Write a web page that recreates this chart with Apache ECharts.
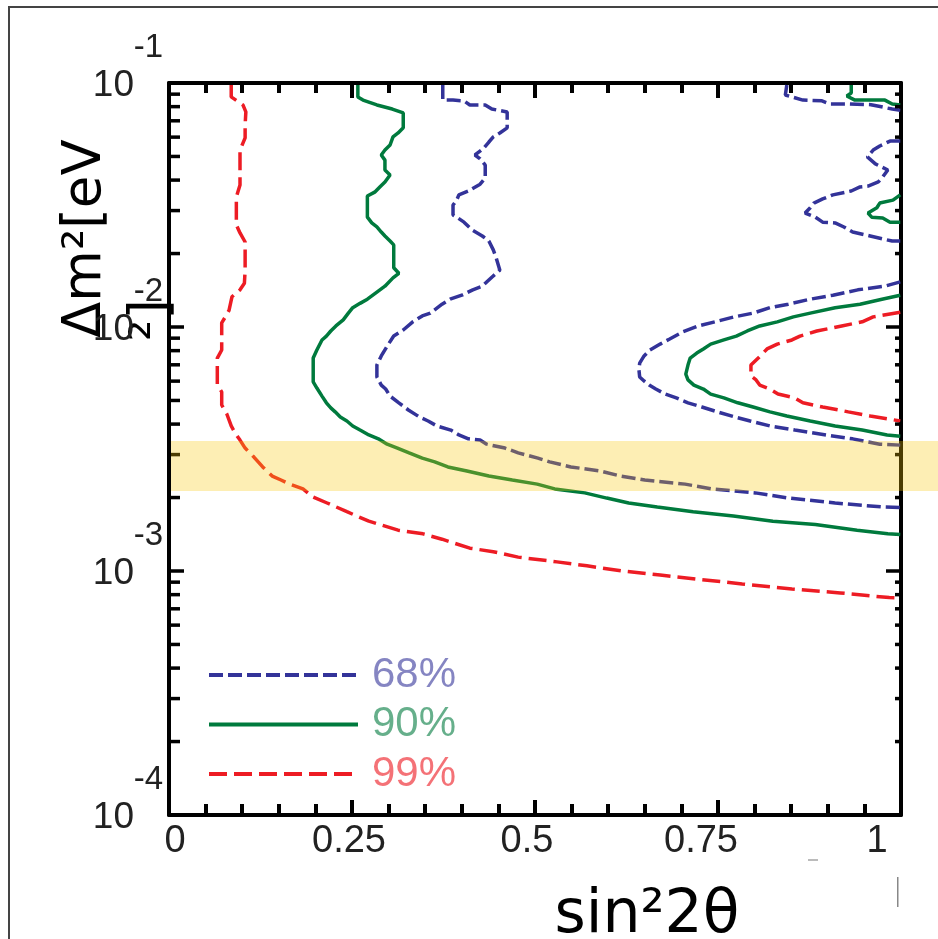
<!DOCTYPE html>
<html><head><meta charset="utf-8">
<script src="https://cdn.jsdelivr.net/npm/echarts@6/dist/echarts.min.js"></script>
<style>html,body{margin:0;padding:0;background:#fff}#c{width:938px;height:939px}</style>
</head><body><div id="c"></div>
<script>
// ---------------- data ----------------
const xTickLabels = [0, 0.25, 0.5, 0.75, 1];
const yMajorTicks = [1e-4, 1e-3, 1e-2, 1e-1];
const yMinorTicks = [2e-4,3e-4,4e-4,5e-4,6e-4,7e-4,8e-4,9e-4,
                     2e-3,3e-3,4e-3,5e-3,6e-3,7e-3,8e-3,9e-3,
                     2e-2,3e-2,4e-2,5e-2,6e-2,7e-2,8e-2,9e-2];
const bandRange = [2.13e-3, 3.41e-3]; // shaded Δm² band
const legendNames = ['68%', '90%', '99%'];

const cl68Left = [[0.374,9.81e-2],[0.374,8.51e-2],[0.388,8.51e-2],[0.403,8.44e-2],[0.411,8.13e-2],[0.432,8.13e-2],[0.441,7.82e-2],[0.462,7.61e-2],[0.462,6.55e-2],[0.452,6.24e-2],[0.443,6.01e-2],[0.437,5.73e-2],[0.429,5.37e-2],[0.418,5.07e-2],[0.425,4.89e-2],[0.432,4.61e-2],[0.432,4.08e-2],[0.425,3.85e-2],[0.409,3.61e-2],[0.396,3.48e-2],[0.393,3.31e-2],[0.388,3.16e-2],[0.388,2.88e-2],[0.393,2.82e-2],[0.403,2.69e-2],[0.414,2.50e-2],[0.428,2.36e-2],[0.437,2.25e-2],[0.443,2.07e-2],[0.447,1.92e-2],[0.452,1.71e-2],[0.441,1.60e-2],[0.428,1.47e-2],[0.415,1.42e-2],[0.400,1.35e-2],[0.384,1.30e-2],[0.373,1.24e-2],[0.357,1.14e-2],[0.346,1.11e-2],[0.333,1.05e-2],[0.320,9.72e-3],[0.307,9.18e-3],[0.299,8.44e-3],[0.290,7.61e-3],[0.284,6.98e-3],[0.284,6.24e-3],[0.290,5.78e-3],[0.296,5.57e-3],[0.302,5.21e-3],[0.314,4.89e-3],[0.327,4.57e-3],[0.342,4.28e-3],[0.354,4.12e-3],[0.366,3.93e-3],[0.385,3.78e-3],[0.396,3.61e-3],[0.409,3.48e-3],[0.425,3.44e-3],[0.434,3.31e-3],[0.459,3.19e-3],[0.477,3.05e-3],[0.504,2.90e-3],[0.520,2.80e-3],[0.549,2.67e-3],[0.589,2.57e-3],[0.617,2.45e-3],[0.650,2.36e-3],[0.705,2.27e-3],[0.742,2.17e-3],[0.801,2.09e-3],[0.847,1.99e-3],[0.910,1.90e-3],[0.974,1.83e-3],[0.999,1.82e-3]];
const cl68Island = [[0.999,1.53e-2],[0.978,1.47e-2],[0.941,1.42e-2],[0.907,1.35e-2],[0.876,1.30e-2],[0.846,1.24e-2],[0.821,1.20e-2],[0.798,1.14e-2],[0.772,1.10e-2],[0.746,1.05e-2],[0.723,1.01e-2],[0.702,9.55e-3],[0.684,8.93e-3],[0.671,8.51e-3],[0.657,8.05e-3],[0.649,7.61e-3],[0.643,7.11e-3],[0.642,6.67e-3],[0.643,6.24e-3],[0.649,6.01e-3],[0.656,5.78e-3],[0.665,5.57e-3],[0.678,5.31e-3],[0.693,5.12e-3],[0.709,4.89e-3],[0.728,4.70e-3],[0.749,4.49e-3],[0.773,4.28e-3],[0.794,4.12e-3],[0.821,3.93e-3],[0.855,3.78e-3],[0.898,3.61e-3],[0.934,3.48e-3],[0.971,3.31e-3],[0.999,3.28e-3]];
const cl68Top = [[0.844,9.81e-2],[0.842,8.93e-2],[0.866,8.51e-2],[0.892,8.45e-2],[0.903,8.20e-2],[0.928,8.20e-2],[0.959,8.15e-2],[0.988,7.82e-2],[0.999,7.74e-2]];
const cl68Edge = [[0.999,5.78e-2],[0.985,5.78e-2],[0.971,5.52e-2],[0.962,5.31e-2],[0.954,4.98e-2],[0.965,4.66e-2],[0.982,4.40e-2],[0.975,4.12e-2],[0.969,3.93e-2],[0.955,3.78e-2],[0.944,3.75e-2],[0.932,3.61e-2],[0.907,3.48e-2],[0.893,3.35e-2],[0.881,3.22e-2],[0.876,3.08e-2],[0.869,2.93e-2],[0.883,2.82e-2],[0.893,2.69e-2],[0.910,2.67e-2],[0.922,2.57e-2],[0.934,2.45e-2],[0.958,2.36e-2],[0.988,2.25e-2],[0.999,2.25e-2]];

const cl90Left = [[0.258,9.81e-2],[0.258,8.77e-2],[0.265,8.51e-2],[0.284,8.13e-2],[0.305,7.82e-2],[0.320,7.54e-2],[0.320,6.55e-2],[0.313,6.24e-2],[0.306,6.01e-2],[0.302,5.57e-2],[0.295,5.31e-2],[0.290,5.07e-2],[0.295,4.83e-2],[0.295,4.40e-2],[0.302,4.20e-2],[0.295,3.93e-2],[0.288,3.75e-2],[0.281,3.57e-2],[0.271,3.44e-2],[0.271,2.82e-2],[0.277,2.67e-2],[0.284,2.57e-2],[0.290,2.45e-2],[0.295,2.36e-2],[0.302,2.25e-2],[0.307,2.17e-2],[0.307,1.75e-2],[0.314,1.66e-2],[0.306,1.59e-2],[0.295,1.47e-2],[0.284,1.39e-2],[0.271,1.30e-2],[0.261,1.25e-2],[0.251,1.20e-2],[0.245,1.14e-2],[0.238,1.07e-2],[0.228,1.01e-2],[0.221,9.63e-3],[0.215,9.18e-3],[0.209,8.85e-3],[0.202,8.05e-3],[0.197,7.46e-3],[0.197,5.96e-3],[0.202,5.62e-3],[0.209,5.21e-3],[0.215,4.89e-3],[0.221,4.66e-3],[0.227,4.49e-3],[0.234,4.28e-3],[0.243,4.12e-3],[0.251,3.93e-3],[0.261,3.78e-3],[0.273,3.61e-3],[0.286,3.48e-3],[0.298,3.31e-3],[0.312,3.19e-3],[0.328,3.05e-3],[0.346,2.90e-3],[0.363,2.80e-3],[0.381,2.67e-3],[0.407,2.57e-3],[0.437,2.45e-3],[0.469,2.36e-3],[0.503,2.27e-3],[0.527,2.17e-3],[0.568,2.09e-3],[0.598,1.99e-3],[0.628,1.90e-3],[0.667,1.83e-3],[0.716,1.75e-3],[0.771,1.68e-3],[0.825,1.60e-3],[0.883,1.55e-3],[0.940,1.47e-3],[0.982,1.42e-3],[0.999,1.41e-3]];
const cl90Island = [[0.999,1.35e-2],[0.974,1.30e-2],[0.944,1.24e-2],[0.910,1.20e-2],[0.876,1.14e-2],[0.853,1.10e-2],[0.831,1.05e-2],[0.807,1.01e-2],[0.790,9.63e-3],[0.775,9.18e-3],[0.758,8.85e-3],[0.740,8.51e-3],[0.730,8.13e-3],[0.721,7.82e-3],[0.712,7.46e-3],[0.709,6.98e-3],[0.706,6.41e-3],[0.709,6.07e-3],[0.717,5.78e-3],[0.730,5.57e-3],[0.740,5.31e-3],[0.758,5.12e-3],[0.777,4.89e-3],[0.798,4.70e-3],[0.821,4.49e-3],[0.844,4.32e-3],[0.876,4.12e-3],[0.910,3.93e-3],[0.947,3.78e-3],[0.981,3.61e-3],[0.999,3.57e-3]];
const cl90Top = [[0.932,9.81e-2],[0.932,9.10e-2],[0.926,8.85e-2],[0.937,8.51e-2],[0.978,8.51e-2],[0.988,8.20e-2],[0.999,8.13e-2]];
const cl90Edge = [[0.999,3.48e-2],[0.989,3.31e-2],[0.971,3.22e-2],[0.967,3.08e-2],[0.955,2.93e-2],[0.960,2.82e-2],[0.975,2.80e-2],[0.985,2.69e-2],[0.999,2.69e-2]];

const cl99Left = [[0.085,9.81e-2],[0.085,8.77e-2],[0.101,8.13e-2],[0.105,7.61e-2],[0.104,6.73e-2],[0.104,5.96e-2],[0.097,5.31e-2],[0.097,4.61e-2],[0.097,3.82e-2],[0.092,3.41e-2],[0.092,3.02e-2],[0.092,2.62e-2],[0.097,2.43e-2],[0.104,2.23e-2],[0.104,1.95e-2],[0.104,1.71e-2],[0.103,1.51e-2],[0.097,1.42e-2],[0.086,1.33e-2],[0.082,1.17e-2],[0.077,1.10e-2],[0.072,1.04e-2],[0.072,9.27e-3],[0.072,8.05e-3],[0.066,7.46e-3],[0.066,6.55e-3],[0.066,5.78e-3],[0.072,5.42e-3],[0.072,4.79e-3],[0.079,4.40e-3],[0.085,3.93e-3],[0.092,3.61e-3],[0.097,3.44e-3],[0.104,3.19e-3],[0.116,2.93e-3],[0.128,2.67e-3],[0.141,2.45e-3],[0.153,2.36e-3],[0.165,2.27e-3],[0.183,2.17e-3],[0.197,2.01e-3],[0.216,1.90e-3],[0.243,1.75e-3],[0.273,1.60e-3],[0.313,1.47e-3],[0.347,1.42e-3],[0.373,1.35e-3],[0.411,1.24e-3],[0.443,1.20e-3],[0.477,1.14e-3],[0.530,1.09e-3],[0.571,1.05e-3],[0.619,1.00e-3],[0.671,9.63e-4],[0.720,9.27e-4],[0.783,8.85e-4],[0.851,8.44e-4],[0.917,8.13e-4],[0.984,7.78e-4],[0.999,7.74e-4]];
const cl99Island = [[0.999,1.15e-2],[0.962,1.10e-2],[0.947,1.05e-2],[0.919,1.01e-2],[0.885,9.63e-3],[0.862,9.18e-3],[0.851,8.85e-3],[0.831,8.51e-3],[0.817,8.13e-3],[0.805,7.46e-3],[0.795,6.98e-3],[0.795,6.30e-3],[0.802,6.07e-3],[0.807,5.78e-3],[0.821,5.57e-3],[0.832,5.31e-3],[0.855,5.12e-3],[0.866,4.89e-3],[0.893,4.70e-3],[0.928,4.49e-3],[0.958,4.32e-3],[0.999,4.12e-3]];

// ---------------- styles ----------------
const C68 = '#333399', C90 = '#007a3d', C99 = '#ed1c24';
const LW = 3.5;
const xLabelPad = [[0,0,0,12],[0,6,0,0],[0,16,0,0],[0,34,0,0],[0,48,0,0]];
const xRich = {};
xLabelPad.forEach((p, i) => { xRich['s' + i] = {padding: p, fontFamily: 'Liberation Sans', fontSize: 38, color: '#222'}; });

function lineSeries(name, data, color, dash) {
  return {type: 'line', name: name, data: data, showSymbol: false, symbol: 'none',
    lineStyle: {color: color, width: LW, type: dash}, itemStyle: {color: color},
    z: 2, silent: true};
}

const chart = echarts.init(document.getElementById('c'), null, {renderer: 'canvas'});
const baseX = {
  type: 'value', min: 0, max: 1, interval: 0.25,
  axisLine: {show: true, onZero: false, lineStyle: {color: '#000', width: 4}},
  axisTick: {show: true, inside: true, length: 15, lineStyle: {color: '#000', width: 4}},
  minorTick: {show: true, splitNumber: 5, length: 11, lineStyle: {color: '#000', width: 4}},
  splitLine: {show: false}, minorSplitLine: {show: false}
};
const baseY = {
  type: 'log', logBase: 10, min: 1e-4, max: 1e-1,
  axisLine: {show: true, onZero: false, lineStyle: {color: '#000', width: 4}},
  axisTick: {show: true, inside: true, length: 15, lineStyle: {color: '#000', width: 3.5}},
  splitLine: {show: false}
};

chart.setOption({
  animation: false,
  backgroundColor: '#fff',
  grid: {left: 169, top: 83, width: 732, height: 732, containLabel: false},
  xAxis: [
    Object.assign({}, baseX, {position: 'bottom',
      axisLabel: {show: true, margin: 8, showMinLabel: true, showMaxLabel: true,
        formatter: function (v) { const i = xTickLabels.indexOf(v); return '{s' + (i < 0 ? 0 : i) + '|' + v + '}'; },
        rich: xRich}}),
    Object.assign({}, baseX, {position: 'top', axisLabel: {show: false},
      minorTick: {show: true, splitNumber: 5, length: 10, lineStyle: {color: '#000', width: 4}}})
  ],
  yAxis: [
    Object.assign({}, baseY, {position: 'left',
      axisLabel: {show: true, margin: 6, showMinLabel: true, showMaxLabel: true,
        formatter: function (v) { return '{e|' + Math.round(Math.log10(v)) + '}\n{b|10}'; },
        rich: {
          e: {fontFamily: 'Liberation Sans', fontSize: 33, lineHeight: 5, align: 'right', color: '#222'},
          b: {fontFamily: 'Liberation Sans', fontSize: 37, lineHeight: 70, align: 'right', padding: [0, 29, 0, 0], color: '#222'}
        }}}),
    Object.assign({}, baseY, {position: 'right', axisLabel: {show: false}})
  ],
  legend: {
    orient: 'vertical', left: 202, top: 649, itemWidth: 149, itemHeight: 14, itemGap: 7.5,
    selectedMode: false, lineStyle: {width: 4}, itemStyle: {opacity: 0},
    textStyle: {fontFamily: 'Liberation Sans', fontSize: 42, lineHeight: 36, padding: [0, 0, 0, 9]},
    data: [
      {name: legendNames[0], textStyle: {color: 'rgba(51,51,153,0.6)'}},
      {name: legendNames[1], textStyle: {color: 'rgba(0,122,61,0.6)'}},
      {name: legendNames[2], textStyle: {color: 'rgba(237,28,36,0.62)'}}
    ]
  },
  graphic: [
    {type: 'rect', x: 9, y: 7, shape: {x: 0, y: 0, width: 1000, height: 1000}, style: {fill: null, stroke: '#444', lineWidth: 2}, silent: true, z: -10},
    {type: 'text', x: 86, y: 338, rotation: Math.PI / 2, silent: true,
      style: {text: 'Δm²[eV', font: '53px "DejaVu Sans"', fill: '#000', align: 'left', verticalAlign: 'middle'}},
    {type: 'text', x: 153, y: 341, rotation: Math.PI / 2, silent: true,
      style: {text: '²]', font: '53px "DejaVu Sans"', fill: '#000', align: 'left', verticalAlign: 'middle'}},
    {type: 'text', x: 647, y: 916, silent: true,
      style: {text: 'sin²2θ', font: '60px "DejaVu Sans"', fill: '#000', align: 'center', verticalAlign: 'middle'}},
    {type: 'rect', x: 808, y: 859, shape: {x: 0, y: 0, width: 10, height: 2}, style: {fill: '#bbb'}, silent: true},
    {type: 'rect', x: 897, y: 877, shape: {x: 0, y: 0, width: 1.5, height: 30}, style: {fill: '#888'}, silent: true}
  ],
  series: [
    lineSeries(legendNames[0], cl68Left, C68, [14, 5]),
    lineSeries(legendNames[0], cl68Island, C68, [14, 5]),
    lineSeries(legendNames[0], cl68Top, C68, [14, 5]),
    lineSeries(legendNames[0], cl68Edge, C68, [14, 5]),
    lineSeries(legendNames[1], cl90Left, C90, 'solid'),
    lineSeries(legendNames[1], cl90Island, C90, 'solid'),
    lineSeries(legendNames[1], cl90Top, C90, 'solid'),
    lineSeries(legendNames[1], cl90Edge, C90, 'solid'),
    lineSeries(legendNames[2], cl99Left, C99, [18, 7]),
    lineSeries(legendNames[2], cl99Island, C99, [18, 7]),
    {
      type: 'custom', name: 'minorTicksY', silent: true, z: 3, clip: false,
      data: yMinorTicks.map(v => [0, v]),
      renderItem: function (params, api) {
        const v = api.value(1);
        const l = api.coord([0, v]);
        const r = api.coord([1, v]);
        return {type: 'group', children: [
          {type: 'line', shape: {x1: l[0], y1: l[1], x2: l[0] + 11, y2: l[1]}, style: {stroke: '#000', lineWidth: 3.5}},
          {type: 'line', shape: {x1: r[0], y1: r[1], x2: r[0] - 6, y2: r[1]}, style: {stroke: '#000', lineWidth: 3.5}}
        ]};
      }
    },
    {
      type: 'custom', name: 'band', silent: true, z: 10, clip: false,
      data: [[0, bandRange[0], bandRange[1]]],
      renderItem: function (params, api) {
        const top = api.coord([api.value(0), api.value(2)]);
        const bot = api.coord([api.value(0), api.value(1)]);
        return {type: 'rect', shape: {x: top[0] + 2, y: top[1], width: api.getWidth() - top[0] - 2, height: bot[1] - top[1]},
          style: {fill: 'rgba(248,198,5,0.3)'}};
      }
    }
  ]
});
</script>
</body></html>
